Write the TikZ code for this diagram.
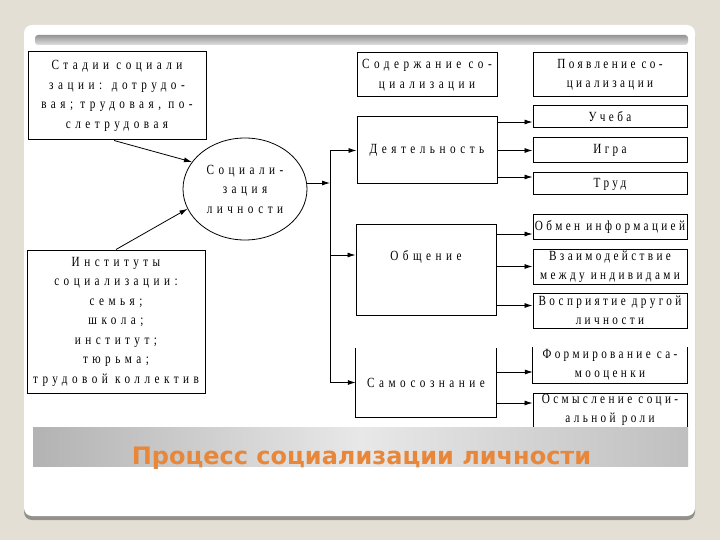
\documentclass[tikz,border=0pt]{standalone}
\usepackage{fontspec}
\usetikzlibrary{shapes.geometric,arrows.meta,calc}
\newfontfamily\boxfont[LetterSpace=32,FakeStretch=0.8]{Liberation Serif}
\newfontfamily\tightfont[LetterSpace=24,FakeStretch=0.8]{Liberation Serif}
\newfontfamily\titlefont{DejaVu Sans}
\definecolor{slidebg}{HTML}{E4DFD5}
\definecolor{titleorange}{HTML}{E8873A}

\begin{document}
\begin{tikzpicture}[x=1pt,y=-1pt,
    txt/.style={font=\boxfont\fontsize{14}{19.5}\selectfont,align=center,inner sep=1pt},
    rtxt/.style={txt,font=\tightfont\fontsize{14}{19}\selectfont,inner sep=0pt,minimum width=154},
    box/.style={txt,draw,line width=1pt},
    rbox/.style={rtxt,draw,line width=1pt},
    side/.style={line width=1pt},
    arr/.style={line width=0.8pt,-{Latex[length=8pt,width=5pt]}}]

    % Slide
    \fill[slidebg] (0,0) rectangle (720,540);
    \fill[black!35!slidebg,rounded corners=8] (24,29) rectangle (695,520);
    \fill[white,rounded corners=8] (24,25) rectangle (695,516);
    \shade[top color=black!42,bottom color=black!12,rounded corners=3] (35,35) rectangle (688,45);

    % Left column
    \node[box,minimum width=178,minimum height=88] (stages) at (117,96)
        {Стадии социали\\зации: дотрудо-\\вая; трудовая, по-\\слетрудовая};
    \node[box,minimum width=178,minimum height=143] (inst) at (116,321.5)
        {Институты\\социализации:\\семья;\\школа;\\институт;\\тюрьма;\\трудовой коллектив};
    \node[txt,draw,ellipse,line width=0.8pt,minimum width=124,minimum height=102,inner sep=0] (soc) at (245,189)
        {Социали-\\зация\\личности};

    % Middle column
    \node[box,minimum width=140,minimum height=44] (content) at (427,75) {Содержание со-\\циализации};
    \node[box,minimum width=140,minimum height=67] (act) at (427,150.5) {Деятельность};
    \node[box,minimum width=140,minimum height=90] (comm) at (426,270) {};
    \node[txt] (commtxt) at ($(comm)+(0,-13)$) {Общение};
    \node[txt,minimum width=140,minimum height=69] (self) at (426,382.5) {Самосознание};
    \draw[side] (self.north west) -- (self.south west) -- (self.south east) -- (self.north east);

    % Right column
    \node[rbox,minimum height=44] (appear) at (610,75) {Появление со-\\циализации};
    \node[rbox,minimum height=22] (study) at (610,117) {Учеба};
    \node[rbox,minimum height=25] (play) at (610,150.5) {Игра};
    \node[rbox,minimum height=22] (work) at (610,184) {Труд};
    \node[rbox,minimum height=24] (info) at (610,227) {Обмен информацией};
    \node[rbox,minimum height=35] (inter) at (610,266.5) {Взаимодействие\\между индивидами};
    \node[rbox,minimum height=35] (perc) at (610,310.5) {Восприятие другой\\личности};
    \node[rtxt,minimum height=36] (esteem) at (610,365) {Формирование са-\\мооценки};
    \draw[side] (esteem.north west) -- (esteem.south west) -- (esteem.south east) -- (esteem.north east);
    \node[rbox,minimum height=34] (role) at (610,410) {Осмысление соци-\\альной роли};

    % Connectors
    \coordinate (bus) at (330,183);
    \draw[arr] ([xshift=-3pt]stages.south) -- (soc.153);
    \draw[arr] (inst.north) -- (soc.199);
    \draw[arr] (soc.east |- bus) -- (bus);
    \draw[line width=0.8pt] (bus |- act.west) -- (bus |- self.west);
    \draw[arr] (bus |- act.west) -- (act.west);
    \draw[arr] ([yshift=15pt]comm.west -| bus) -- ([yshift=15pt]comm.west);
    \draw[arr] (bus |- self.west) -- (self.west);

    \draw[arr] ([yshift=-5pt]study.west -| act.east) -- ([yshift=-5pt]study.west);
    \draw[arr] (play.west -| act.east) -- (play.west);
    \draw[arr] ([yshift=7pt]work.west -| act.east) -- ([yshift=7pt]work.west);
    \draw[arr] ([yshift=-7pt]info.west -| comm.east) -- ([yshift=-7pt]info.west);
    \draw[arr] (inter.west -| comm.east) -- (inter.west);
    \draw[arr] ([yshift=5pt]perc.west -| comm.east) -- ([yshift=5pt]perc.west);
    \draw[arr] ([yshift=-7pt]esteem.west -| self.east) -- ([yshift=-7pt]esteem.west);
    \draw[arr] ([yshift=7pt]role.west -| self.east) -- ([yshift=7pt]role.west);

    % Title band
    \shade[left color=black!30,right color=black!9] (33,427) rectangle (361,466);
    \shade[left color=black!9,right color=black!25] (360.5,427) rectangle (688,466);
    \node[font=\titlefont\bfseries\fontsize{24}{28}\selectfont,text=titleorange] (title) at (361.5,458)
        {Процесс социализации личности};
\end{tikzpicture}
\end{document}
